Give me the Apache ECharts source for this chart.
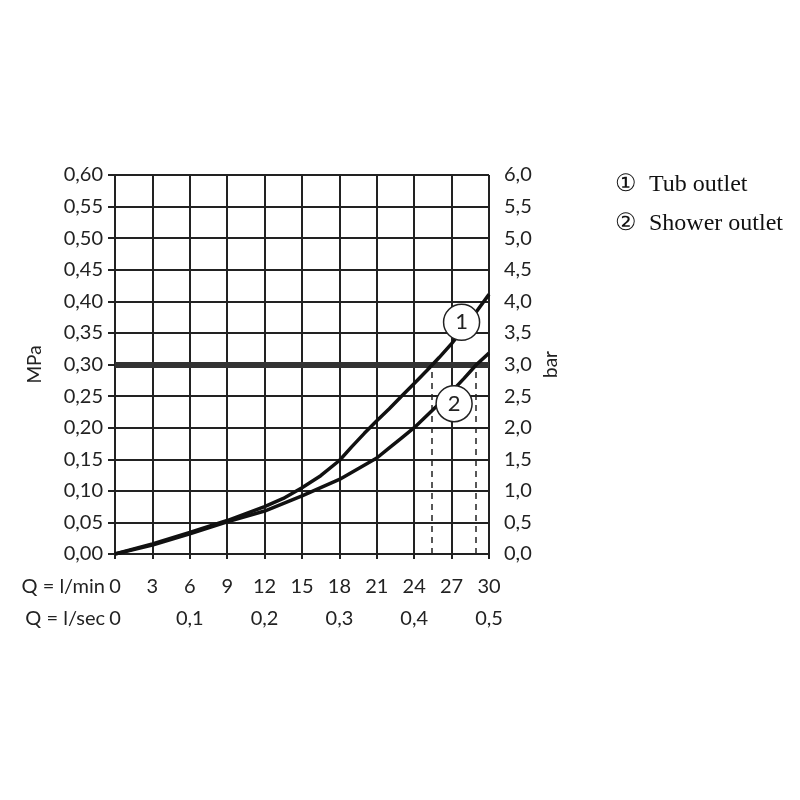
<!DOCTYPE html>
<html>
<head>
<meta charset="utf-8">
<script src="https://cdn.jsdelivr.net/npm/echarts@6/dist/echarts.min.js"></script>
<style>html,body{margin:0;padding:0;background:#fff}#c{width:800px;height:800px}</style>
</head>
<body>
<div id="c"></div>
<script>
// ---- data ----
const xMinTicks = [0, 3, 6, 9, 12, 15, 18, 21, 24, 27, 30];           // l/min
const xSecLabels = ['0', '0,1', '0,2', '0,3', '0,4', '0,5'];          // at 0,6,...,30 l/min
const yLeftLabels = ['0,00','0,05','0,10','0,15','0,20','0,25','0,30','0,35','0,40','0,45','0,50','0,55','0,60'];
const yRightLabels = ['0,0','0,5','1,0','1,5','2,0','2,5','3,0','3,5','4,0','4,5','5,0','5,5','6,0'];

const tubQ = [0, 3, 6, 9, 12, 13.5, 15, 16.5, 18, 19, 20, 21, 22, 23, 24, 25, 26, 27, 28, 29, 30];
const tubP = [0, 0.016, 0.034, 0.053, 0.075, 0.088, 0.105, 0.124, 0.148, 0.170, 0.191, 0.211, 0.230, 0.250, 0.270, 0.290, 0.311, 0.333, 0.358, 0.384, 0.411];

const showerQ = [0, 3, 6, 9, 12, 15, 18, 21, 22, 23, 24, 25, 26, 27, 28, 29, 30];
const showerP = [0, 0.014, 0.032, 0.051, 0.068, 0.092, 0.118, 0.152, 0.168, 0.184, 0.200, 0.219, 0.238, 0.257, 0.278, 0.300, 0.318];

const refPressure = 0.30;            // MPa reference line
const tubAtRef = 25.4;               // l/min where tub curve meets 0.30
const showerAtRef = 28.9;            // l/min where shower curve meets 0.30
const markerPos = [[27.8, 0.367], [27.2, 0.238]];
const markerText = ['1', '2'];

const seriesNames = ['Tub outlet', 'Shower outlet'];
const seriesNums = ['\u2460', '\u2461'];

// ---- chart ----
const ink = '#222';
const font = 'Lato, "DejaVu Sans", sans-serif';
const fs = 20;
const chart = echarts.init(document.getElementById('c'), null, {renderer: 'canvas'});

function pairs(xs, ys) { return xs.map((x, i) => [x, ys[i]]); }

const option = {
  animation: false,
  backgroundColor: '#fff',
  legend: {
    orient: 'vertical',
    left: 605, top: 168,
    icon: 'none',
    itemGap: 15,
    itemWidth: 0,
    data: seriesNames,
    formatter: name => seriesNums[seriesNames.indexOf(name)] + '  ' + name,
    textStyle: {fontFamily: '"Liberation Serif", "DejaVu Serif", serif', fontSize: 24, color: '#111'},
    selectedMode: false
  },
  grid: {left: 115, right: 311, top: 175, bottom: 246, containLabel: false},
  xAxis: [
    {
      type: 'value', min: 0, max: 30, interval: 3, position: 'bottom',
      name: 'Q = l/min', nameLocation: 'start', nameGap: 10, nameMoveOverlap: false,
      nameTextStyle: {fontFamily: font, fontSize: fs, color: ink, verticalAlign: 'top', padding: [23, 0, 0, 0]},
      axisLine: {show: true, lineStyle: {color: ink, width: 2}},
      axisTick: {show: true, inside: false, length: 5, lineStyle: {color: ink, width: 2}},
      axisLabel: {margin: 23, fontFamily: font, fontSize: fs, color: ink,
        formatter: v => { const i = xMinTicks.indexOf(v); return i >= 0 ? String(xMinTicks[i]) : ''; }},
      splitLine: {show: true, lineStyle: {color: ink, width: 2}}
    },
    {
      type: 'value', min: 0, max: 30, interval: 6, position: 'bottom', offset: 32,
      name: 'Q = l/sec', nameLocation: 'start', nameGap: 10, nameMoveOverlap: false,
      nameTextStyle: {fontFamily: font, fontSize: fs, color: ink, verticalAlign: 'top', padding: [55, 0, 0, 0]},
      axisLine: {show: false}, axisTick: {show: false}, splitLine: {show: false},
      axisLabel: {margin: 23, fontFamily: font, fontSize: fs, color: ink,
        formatter: v => xSecLabels[Math.round(v / 6)] || ''}
    }
  ],
  yAxis: [
    {
      type: 'value', min: 0, max: 0.6, interval: 0.05, position: 'left',
      name: 'MPa', nameLocation: 'middle', nameGap: 71, nameRotate: 90, nameMoveOverlap: false,
      nameTextStyle: {fontFamily: font, fontSize: 19, color: ink},
      axisLine: {show: true, lineStyle: {color: ink, width: 2}},
      axisTick: {show: true, inside: false, length: 7, lineStyle: {color: ink, width: 2}},
      axisLabel: {margin: 12, fontFamily: font, fontSize: fs, color: ink,
        formatter: v => yLeftLabels[Math.round(v / 0.05)] || ''},
      splitLine: {show: true, lineStyle: {color: ink, width: 2}}
    },
    {
      type: 'value', min: 0, max: 6, interval: 0.5, position: 'right',
      name: 'bar', nameLocation: 'middle', nameGap: 52, nameRotate: 90, nameMoveOverlap: false,
      nameTextStyle: {fontFamily: font, fontSize: 19, color: ink},
      axisLine: {show: true, lineStyle: {color: ink, width: 2}},
      axisTick: {show: true, inside: false, length: 7, lineStyle: {color: ink, width: 2}},
      axisLabel: {margin: 15, fontFamily: font, fontSize: fs, color: ink,
        formatter: v => yRightLabels[Math.round(v / 0.5)] || ''},
      splitLine: {show: false}
    }
  ],
  series: [
    {
      name: seriesNames[0], type: 'line', xAxisIndex: 0, yAxisIndex: 0,
      data: pairs(tubQ, tubP), showSymbol: false, smooth: false,
      lineStyle: {color: '#111', width: 3.5}, itemStyle: {color: '#111'},
      z: 5,
      markLine: {
        silent: true, symbol: 'none', label: {show: false},
        data: [
          {yAxis: refPressure, lineStyle: {color: '#333', width: 6, type: 'solid'}},
          [{coord: [tubAtRef, 0]}, {coord: [tubAtRef, refPressure]}],
          [{coord: [showerAtRef, 0]}, {coord: [showerAtRef, refPressure]}]
        ],
        lineStyle: {color: ink, width: 1.5, type: [6, 5]}
      }
    },
    {
      name: seriesNames[1], type: 'line', xAxisIndex: 0, yAxisIndex: 0,
      data: pairs(showerQ, showerP), showSymbol: false, smooth: false,
      lineStyle: {color: '#111', width: 3.5}, itemStyle: {color: '#111'},
      z: 5
    },
    {
      name: 'markers', type: 'scatter', xAxisIndex: 0, yAxisIndex: 0,
      data: markerPos, symbol: 'circle', symbolSize: 36, z: 10, silent: true,
      itemStyle: {color: '#fff', borderColor: '#222', borderWidth: 1.5, opacity: 1},
      label: {show: true, position: 'inside', formatter: p => markerText[p.dataIndex],
        fontFamily: font, fontSize: 22, color: '#222'}
    }
  ]
};
chart.setOption(option);
</script>
</body>
</html>
